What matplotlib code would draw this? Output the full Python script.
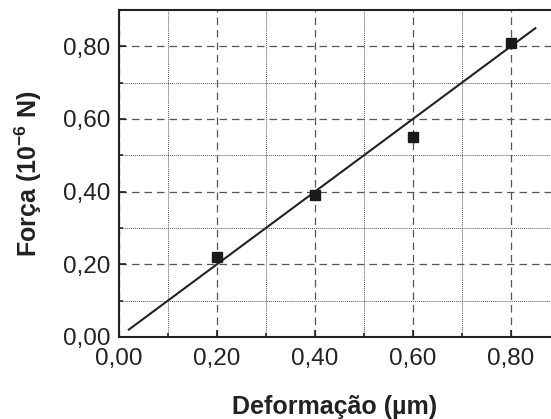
import matplotlib.pyplot as plt
from matplotlib.ticker import MultipleLocator, FuncFormatter

plt.rcParams['font.family'] = ['Liberation Sans', 'DejaVu Sans']
plt.rcParams['mathtext.fontset'] = 'custom'
plt.rcParams['mathtext.rm'] = 'Liberation Sans:bold'
plt.rcParams['mathtext.default'] = 'rm'

# dados medidos
deformacao = [0.20, 0.40, 0.60, 0.80]
forca = [0.22, 0.39, 0.55, 0.81]

# reta ajustada
fit_x = [0.02, 0.85]
fit_y = [0.02, 0.85]

ticks = [0.0, 0.2, 0.4, 0.6, 0.8]

fig = plt.figure(figsize=(5.51, 4.19), dpi=100)
ax = fig.add_axes([0.216, 0.196, 0.784, 0.780])

ax.plot(fit_x, fit_y, color='#222222', lw=1.5, zorder=3)
ax.plot(deformacao, forca, 's', color='#1a1a1a', ms=7.5, zorder=4)

ax.set_xlim(0, 0.882)
ax.set_ylim(0, 0.90)
ax.set_xticks(ticks)
ax.set_yticks(ticks)
ax.xaxis.set_minor_locator(MultipleLocator(0.1))
ax.yaxis.set_minor_locator(MultipleLocator(0.1))
fmt = FuncFormatter(lambda v, p: f"{v:.2f}".replace('.', ','))
ax.xaxis.set_major_formatter(fmt)
ax.yaxis.set_major_formatter(fmt)

ax.grid(which='major', color='#555555', linestyle=(0, (6, 4)), lw=0.9)
ax.grid(which='minor', color='#555555', linestyle=(0, (1, 1)), lw=0.7)

ax.tick_params(which='both', direction='in', labelsize=17.5, width=1.2,
               color='#222222', labelcolor='#222222')
ax.tick_params(which='major', length=5)
ax.tick_params(which='minor', length=3)
ax.tick_params(axis='x', pad=8)
ax.tick_params(axis='y', pad=6)

ax.spines['right'].set_visible(False)
for s in ['left', 'bottom', 'top']:
    ax.spines[s].set_linewidth(1.5)
    ax.spines[s].set_color('#222222')

ax.set_xlabel("Deformação (µm)", fontsize=18, fontweight='bold', labelpad=18, color='#222222')
ax.set_ylabel("Força (10$^{-6}$ N)", fontsize=18, fontweight='bold', labelpad=14, color='#222222')

fig.savefig("out.png", dpi=100)
